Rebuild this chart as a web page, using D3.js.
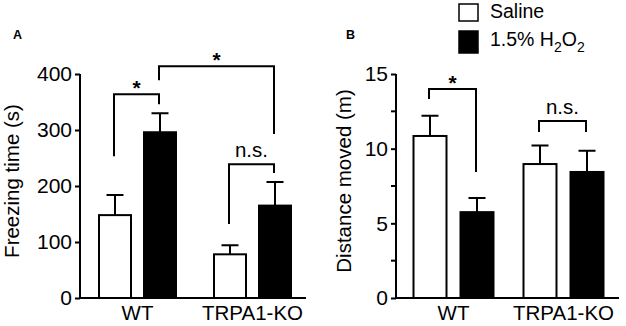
<!DOCTYPE html>
<html>
<head>
<meta charset="utf-8">
<script src="https://cdn.jsdelivr.net/npm/d3@7"></script>
<style>
  body { margin: 0; background: #fff; }
  svg { display: block; font-family: "Liberation Sans", Arial, sans-serif; }
</style>
</head>
<body>
<svg id="chart" width="626" height="326"></svg>
<script>
// data
const groups = ["WT", "TRPA1-KO"];
const treatments = ["Saline", "H2O2"];

const freezeMean = { WT: [148, 296], "TRPA1-KO": [78, 165] };
const freezeSem = { WT: [36, 34], "TRPA1-KO": [16, 42] };
const freezeTicks = [0, 100, 200, 300, 400];

const distMean = { WT: [10.85, 5.75], "TRPA1-KO": [8.97, 8.44] };
const distSem = { WT: [1.35, 0.95], "TRPA1-KO": [1.25, 1.42] };
const distTicks = [0, 5, 10, 15];
const distMinorTicks = [2.5, 7.5, 12.5];

// brackets: [group, treatment index] for each leg, leg bottoms and top in data units
const freezeBrackets = [
  { a: ["WT", 0], b: ["WT", 1], aLow: 253, bLow: 346, top: 364, label: "*" },
  { a: ["WT", 1], b: ["TRPA1-KO", 1], aLow: 389, bLow: 293, top: 414, label: "*" },
  { a: ["TRPA1-KO", 0], b: ["TRPA1-KO", 1], aLow: 132, bLow: 223, top: 239, label: "n.s." },
];
const distBrackets = [
  { a: ["WT", 0], b: ["WT", 1], aLow: 13.33, bLow: 8.44, top: 14.0, label: "*" },
  { a: ["TRPA1-KO", 0], b: ["TRPA1-KO", 1], aLow: 11.12, bLow: 11.12, top: 11.86, label: "n.s." },
];

const svg = d3.select("#chart");
const fills = ["#fff", "#000"];
const yTop = 74, yBottom = 298;

function drawPanel(p) {
  const g = svg.append("g");

  const y = d3.scaleLinear().domain(p.domain).range([yBottom, yTop]);
  const xg = d3.scalePoint().domain(groups).range(p.groupRange);
  const xs = d3.scaleBand().domain(treatments)
    .range([-p.half, p.half]).paddingInner(p.pad).paddingOuter(0);
  const bw = xs.bandwidth();
  const cx = (grp, i) => xg(grp) + xs(treatments[i]) + bw / 2;

  // bars
  const rows = [];
  groups.forEach((grp) => {
    treatments.forEach((t, i) => {
      rows.push({ grp, i, mean: p.mean[grp][i], sem: p.sem[grp][i] });
    });
  });

  g.selectAll(".bar").data(rows).enter().append("rect")
    .attr("x", (d) => cx(d.grp, d.i) - bw / 2)
    .attr("y", (d) => y(d.mean))
    .attr("width", bw)
    .attr("height", (d) => y(0) - y(d.mean))
    .attr("fill", (d) => fills[d.i])
    .attr("stroke", "#000")
    .attr("stroke-width", 2);

  // error bars (upper only)
  g.selectAll(".err").data(rows).enter().append("path")
    .attr("d", (d) => {
      const x = cx(d.grp, d.i);
      const t = y(d.mean + d.sem);
      return `M${x},${y(d.mean)}V${t}M${x - 8.5},${t}H${x + 8.5}`;
    })
    .attr("fill", "none")
    .attr("stroke", "#000")
    .attr("stroke-width", 2);

  // y axis
  const ya = g.append("g")
    .attr("transform", `translate(${p.axisX},0)`)
    .call(d3.axisLeft(y).tickValues(p.ticks).tickSize(5).tickPadding(3));
  if (p.minor) {
    ya.call((s) => s.selectAll(".minor").data(p.minor).enter().append("line")
      .attr("x1", -5).attr("x2", 0)
      .attr("y1", (d) => y(d)).attr("y2", (d) => y(d))
      .attr("stroke", "#000").attr("stroke-width", 2));
  }
  ya.select(".domain").attr("d", `M0,${yTop}V${yBottom}`).attr("stroke-width", 2);
  ya.selectAll(".tick line").attr("stroke-width", 2);
  ya.selectAll(".tick text")
    .attr("font-size", 21)
    .attr("font-family", "Liberation Sans, Arial, sans-serif")
    .attr("fill", "#000");

  // x axis line
  g.append("line")
    .attr("x1", p.axisX - 1).attr("x2", p.xEnd)
    .attr("y1", yBottom).attr("y2", yBottom)
    .attr("stroke", "#000").attr("stroke-width", 2);

  g.selectAll(".xlab").data(groups).enter().append("text")
    .attr("x", (d) => xg(d) + p.labShift)
    .attr("y", 320)
    .attr("text-anchor", "middle")
    .attr("font-size", 20.5)
    .text((d) => d);

  // y label
  g.append("text")
    .attr("transform", `translate(${p.ylabX},181) rotate(-90)`)
    .attr("text-anchor", "middle")
    .attr("font-size", 20.5)
    .text(p.ylabel);

  // panel letter
  g.append("text")
    .attr("x", p.letterX).attr("y", 39)
    .attr("font-size", 12.5)
    .attr("font-weight", "bold")
    .text(p.letter);

  // significance brackets
  p.brackets.forEach((b) => {
    const x1 = cx(b.a[0], b.a[1]) - 1;
    const x2 = cx(b.b[0], b.b[1]) - 1;
    const t = y(b.top);
    g.append("path")
      .attr("d", `M${x1},${y(b.aLow)}V${t}H${x2}V${y(b.bLow)}`)
      .attr("fill", "none")
      .attr("stroke", "#000")
      .attr("stroke-width", 2);
    const star = b.label === "*";
    g.append("text")
      .attr("x", (x1 + x2) / 2)
      .attr("y", star ? t + 1 : t - 7)
      .attr("text-anchor", "middle")
      .attr("font-size", star ? 21 : 20.5)
      .attr("font-weight", star ? "bold" : "normal")
      .text(b.label);
  });
}

drawPanel({
  domain: [0, 400], ticks: freezeTicks, mean: freezeMean, sem: freezeSem,
  axisX: 80, xEnd: 306, groupRange: [137.5, 252.5], half: 38.5, pad: 0.289,
  labShift: 0, ylabX: 19, ylabel: "Freezing time (s)", letter: "A", letterX: 13,
  brackets: freezeBrackets,
});

drawPanel({
  domain: [0, 15], ticks: distTicks, minor: distMinorTicks, mean: distMean, sem: distSem,
  axisX: 396, xEnd: 619, groupRange: [453.5, 563.5], half: 40, pad: 0.298,
  labShift: 0, ylabX: 351, ylabel: "Distance moved (m)", letter: "B", letterX: 346,
  brackets: distBrackets,
});

// legend
const legend = svg.append("g");
const legendRows = [
  { y0: 4, h: 17, fill: "#fff" },
  { y0: 31, h: 22, fill: "#000" },
];
legend.selectAll("rect").data(legendRows).enter().append("rect")
  .attr("x", 459).attr("y", (d) => d.y0)
  .attr("width", 19).attr("height", (d) => d.h)
  .attr("fill", (d) => d.fill)
  .attr("stroke", "#000").attr("stroke-width", 1.5);

legend.append("text")
  .attr("x", 490).attr("y", 18)
  .attr("font-size", 19.5)
  .text("Saline");

const t2 = legend.append("text")
  .attr("x", 490).attr("y", 46)
  .attr("font-size", 19.5);
t2.append("tspan").text("1.5% H");
t2.append("tspan").attr("dy", 6).attr("font-size", 14).text("2");
t2.append("tspan").attr("dy", -6).text("O");
t2.append("tspan").attr("dy", 6).attr("font-size", 14).text("2");
</script>
</body>
</html>
